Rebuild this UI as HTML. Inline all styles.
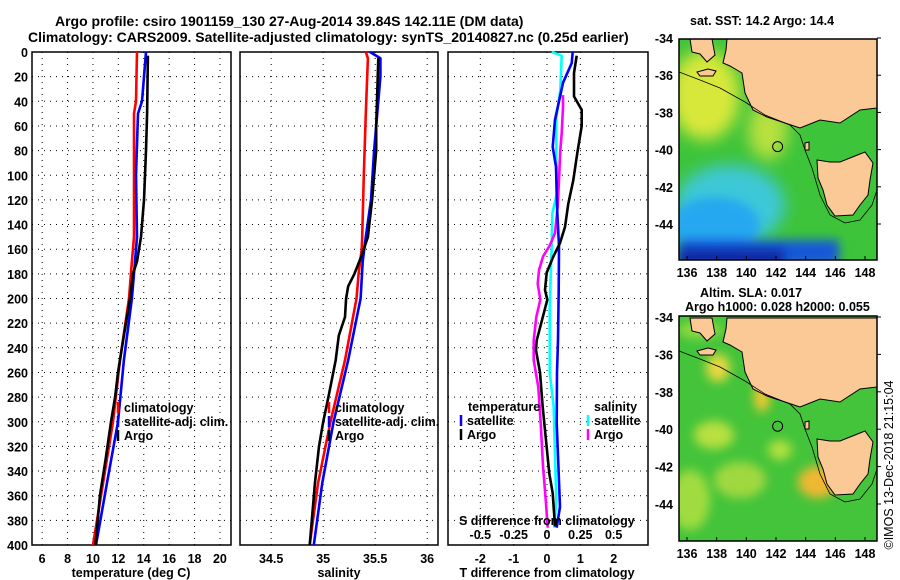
<!DOCTYPE html>
<html><head><meta charset="utf-8">
<style>
html,body{margin:0;padding:0;background:#fff;}
svg{display:block;font-family:"Liberation Sans",sans-serif;font-weight:bold;}
text{font-size:12.5px;fill:#000;}
</style></head>
<body>
<svg id="chart" width="900" height="580" viewBox="0 0 900 580" xmlns="http://www.w3.org/2000/svg">
<text x="55" y="26" style="font-size:14px">Argo profile: csiro 1901159_130 27-Aug-2014 39.84S 142.11E (DM data)</text>
<text x="28" y="42" style="font-size:14px">Climatology: CARS2009. Satellite-adjusted climatology: synTS_20140827.nc (0.25d earlier)</text>
<g id="panels"></g>
<g id="maps"></g>
<text transform="translate(893,465) rotate(-90)" text-anchor="middle" style="font-weight:normal;font-size:12.5px">©IMOS 13-Dec-2018 21:15:04</text>
</svg>
<script>
// ---- data ----
const depthTicks = [0,20,40,60,80,100,120,140,160,180,200,220,240,260,280,300,320,340,360,380,400];
const tempTicks = [6,8,10,12,14,16,18,20];
const salTicks = [34.5,35,35.5,36];
const tdiffTicks = [-2,-1,0,1,2];
const sdiffTicks = [-0.5,-0.25,0,0.25,0.5];
const sdiffTickLabels = ["-0.5","-0.25","0","0.25","0.5"];

const tClimDepth = [0,40,50,100,150,170,200,250,300,350,400];
const tClimVal   = [13.47,13.39,13.23,13.23,13.23,13.07,12.84,12.13,11.58,10.79,10.0];
const tSatDepth  = [0,20,40,50,100,150,170,200,250,300,350,400];
const tSatVal    = [14.18,14.02,13.86,13.55,13.39,13.47,13.31,13.07,12.44,11.97,11.1,10.24];
const tArgoDepth = [3,50,80,100,120,150,170,180,200,230,260,280,300,330,360,400];
const tArgoVal   = [14.33,14.26,14.18,14.1,14.02,13.78,13.47,13.15,12.92,12.44,11.97,11.74,11.42,11.0,10.55,10.2];

const sClimDepth = [0,5,50,100,150,160,180,200,250,300,350,400];
const sClimVal   = [35.41,35.43,35.41,35.39,35.375,35.37,35.34,35.32,35.21,35.07,34.95,34.87];
const sSatDepth  = [0,5,20,40,80,120,150,170,200,250,300,350,400];
const sSatVal    = [35.45,35.55,35.55,35.53,35.49,35.46,35.41,35.38,35.36,35.24,35.1,34.99,34.91];
const sArgoDepth = [5,60,80,100,120,150,165,180,190,200,215,230,250,280,300,320,350,380,400];
const sArgoVal   = [35.53,35.51,35.51,35.49,35.47,35.43,35.37,35.3,35.24,35.22,35.21,35.15,35.12,35.05,35.0,34.96,34.92,34.89,34.87];

const dTSatDepth  = [0,9,25,55,77,93,125,158,193,234,260,301,342,369,386];
const dTSatVal    = [0.77,0.74,0.48,0.24,0.17,0.27,0.3,0.36,0.35,0.33,0.3,0.29,0.35,0.39,0.29];
const dTArgoDepth = [3,17,36,47,60,82,104,123,142,155,166,179,193,201,234,242,260,288,315,342,358,385];
const dTArgoVal   = [0.89,0.81,0.81,1.04,1.04,0.91,0.79,0.64,0.54,0.39,0.19,-0.01,-0.06,0.01,-0.31,-0.33,-0.21,-0.13,-0.03,0.07,0.17,0.24];
const dSSatDepth  = [0,3,31,53,88,112,131,158,207,234,260,288,328,363,386];
const dSSatVal    = [0.035,0.11,0.1,0.07,0.07,0.08,0.04,0.035,0.02,0.02,0.02,0.05,0.06,0.07,0.055];
const dSArgoDepth = [35,45,66,80,104,125,147,157,166,177,188,201,215,234,250,272,301,336,363,386];
const dSArgoVal   = [0.12,0.12,0.11,0.1,0.09,0.08,0.06,0.02,-0.03,-0.06,-0.07,-0.05,-0.08,-0.1,-0.1,-0.065,-0.047,-0.03,-0.01,0.005];

const lonTicks = [136,138,140,142,144,146,148];
const latTicks = [-34,-36,-38,-40,-42,-44];
const argoLon = 142.11, argoLat = -39.84;

// ---- helpers ----
const NS = "http://www.w3.org/2000/svg";
function mk(tag, attrs, parent){ const e=document.createElementNS(NS,tag); for(const k in attrs) e.setAttribute(k,attrs[k]); parent.appendChild(e); return e; }
const Y0=52, Y1=545;
const yD = d => Y0 + d*(Y1-Y0)/400;
function lin(d0,d1,r0,r1){ return v => r0 + (v-d0)*(r1-r0)/(d1-d0); }
const xT = lin(5.2,20.87,32,231);
const xS = lin(34.2,36.104,240,438);
const xTD = lin(-2.97,3.03,448,648);
const xSD = v => xTD(v*4);

const panels = document.getElementById('panels');

function frame(x0,x1,name,xticks,xfn){
  const g = mk('g',{},panels);
  
  
  depthTicks.forEach(d=>{ if(d>0&&d<400){ const l=mk('line',{x1:x0,x2:x1,y1:yD(d),y2:yD(d),stroke:'#000','stroke-width':1,'stroke-dasharray':'1 5'},g);
      }});
  xticks.forEach(v=>{ const x=xfn(v); const l=mk('line',{x1:x,x2:x,y1:Y0,y2:Y1,stroke:'#000','stroke-width':1,'stroke-dasharray':'1 5'},g);
      });
  const r=mk('rect',{x:x0,y:Y0,width:x1-x0,height:Y1-Y0,fill:'none',stroke:'#000','stroke-width':1.5},g);
   
  return g;
}
function line(g,depths,vals,xfn,color,name){
  const pts = depths.map((d,i)=>xfn(vals[i]).toFixed(1)+','+yD(d).toFixed(1)).join(' ');
  const p = mk('polyline',{points:pts,fill:'none',stroke:color,'stroke-width':2.6,'stroke-linejoin':'round'},g);
  
  
}
function txt(g,x,y,s,anchor,name,extra){
  const t = mk('text',Object.assign({x:x,y:y,'text-anchor':anchor||'start'},extra||{}),g);
  t.textContent = s;
  
  
  return t;
}
function legend(g,x,y,color,label){
  const l=mk('line',{x1:x,x2:x,y1:y-10,y2:y+1,stroke:color,'stroke-width':2.5},g);
   
  txt(g,x+6,y,label,'start','legend-entry');
}

// Panel 1: temperature
const g1 = frame(32,231,'temperature-panel',tempTicks,xT);
depthTicks.forEach(d=>txt(g1,28,yD(d)+5,String(d),'end','y-tick-label'));
tempTicks.forEach(v=>txt(g1,xT(v),563,String(v),'middle','x-tick-label'));
txt(g1,131,577,'temperature (deg C)','middle','x-axis-title');
line(g1,tClimDepth,tClimVal,xT,'#f00','temp-climatology-line');
line(g1,tSatDepth,tSatVal,xT,'#00f','temp-satellite-line');
line(g1,tArgoDepth,tArgoVal,xT,'#000','temp-argo-line');
legend(g1,118,412,'#f00','climatology');
legend(g1,118,426,'#00f','satellite-adj. clim.');
legend(g1,118,440,'#000','Argo');

// Panel 2: salinity
const g2 = frame(240,438,'salinity-panel',salTicks,xS);
salTicks.forEach(v=>txt(g2,xS(v),563,String(v),'middle','x-tick-label'));
txt(g2,339,577,'salinity','middle','x-axis-title');
line(g2,sClimDepth,sClimVal,xS,'#f00','sal-climatology-line');
line(g2,sSatDepth,sSatVal,xS,'#00f','sal-satellite-line');
line(g2,sArgoDepth,sArgoVal,xS,'#000','sal-argo-line');
legend(g2,329,412,'#f00','climatology');
legend(g2,329,426,'#00f','satellite-adj. clim.');
legend(g2,329,440,'#000','Argo');

// Panel 3: differences
const g3 = frame(448,648,'difference-panel',tdiffTicks,xTD);
tdiffTicks.forEach(v=>txt(g3,xTD(v),563,String(v),'middle','x-tick-label'));
txt(g3,547,577,'T difference from climatology','middle','x-axis-title');
line(g3,dSSatDepth,dSSatVal,xSD,'#0ff','sdiff-satellite-line');
line(g3,dSArgoDepth,dSArgoVal,xSD,'#f0f','sdiff-argo-line');
line(g3,dTSatDepth,dTSatVal,xTD,'#00f','tdiff-satellite-line');
line(g3,dTArgoDepth,dTArgoVal,xTD,'#000','tdiff-argo-line');
txt(g3,468,411,'temperature','start','legend-title');
legend(g3,461,425,'#00f','satellite');
legend(g3,461,439,'#000','Argo');
txt(g3,594,411,'salinity','start','legend-title');
legend(g3,588,425,'#0ff','satellite');
legend(g3,588,439,'#f0f','Argo');
txt(g3,459,525,'S difference from climatology','start','s-axis-title');
sdiffTicks.forEach((v,i)=>txt(g3,xSD(v),539,sdiffTickLabels[i],'middle','s-tick-label'));

// ---- maps ----
const maps = document.getElementById('maps');
const defs = mk('defs',{},maps);
const f = mk('filter',{id:'blur',x:'-50%',y:'-50%',width:'200%',height:'200%'},defs);
mk('feGaussianBlur',{stdDeviation:8},f);
const f2 = mk('filter',{id:'blur2',x:'-50%',y:'-50%',width:'200%',height:'200%'},defs);
mk('feGaussianBlur',{stdDeviation:5},f2);

function drawMap(top,bottom,name,type){
  const X0=679,X1=877;
  const lonX = lin(136,148,687,865);
  const latY = lin(-34,-44,top-1+ (type==='sst'?0:2),top-1+(type==='sst'?186:189));
  const g = mk('g',{},maps);
  
  
  const cp = mk('clipPath',{id:'clip-'+type},defs);
  mk('rect',{x:X0,y:top,width:X1-X0,height:bottom-top},cp);
  const c = mk('g',{'clip-path':'url(#clip-'+type+')'},g);
  if(type==='sst'){
    mk('rect',{x:X0,y:top,width:X1-X0,height:bottom-top,fill:'#3ec43a'},c);
    mk('ellipse',{cx:705,cy:95,rx:35,ry:45,fill:'#d8e83a',filter:'url(#blur)'},c);
    mk('ellipse',{cx:768,cy:130,rx:20,ry:30,fill:'#b8e040',filter:'url(#blur)'},c);
    mk('ellipse',{cx:730,cy:205,rx:55,ry:40,fill:'#3cc8d8',filter:'url(#blur)'},c);
    mk('ellipse',{cx:715,cy:225,rx:45,ry:28,fill:'#28a8f0',filter:'url(#blur2)'},c);
    mk('rect',{x:X0,y:240,width:160,height:25,fill:'#1458d8',filter:'url(#blur2)'},c);
    mk('rect',{x:X0,y:250,width:105,height:15,fill:'#0828a0',filter:'url(#blur2)'},c);
  } else {
    mk('rect',{x:X0,y:top,width:X1-X0,height:bottom-top,fill:'#44c43a'},c);
    [[718,368,12,14,'#e8d840'],[762,396,8,16,'#f0c830'],[714,435,20,14,'#b8e040'],[818,482,20,16,'#f0b830'],[780,450,12,10,'#b0e040'],[740,480,26,18,'#a0d840'],[700,330,22,8,'#98dc40'],[690,500,20,30,'#a0dc40']].forEach(b=>{
      mk('ellipse',{cx:b[0],cy:b[1],rx:b[2],ry:b[3],fill:b[4],filter:'url(#blur2)'},c);
    });
  }
  // land
  const off = latY(-34) - 38;
  const land = [[727,39],[877,39],[877,108],[860,110],[840,123],[820,120],[800,128],[767,117],[753,110],[745,93],[742,73],[730,66],[723,63],[726,50]];
  const lp = mk('polygon',{points:land.map(p=>p[0]+','+(p[1]+off)).join(' '),fill:'#fbc996',stroke:'#000','stroke-width':1},c);
   
  const pen = [[690,39],[712,39],[715,55],[707,62],[700,54],[692,52]];
  mk('polygon',{points:pen.map(p=>p[0]+','+(p[1]+off)).join(' '),fill:'#fbc996',stroke:'#000','stroke-width':1},c);
  const ki = [[697,72],[708,69],[716,71],[713,76],[700,76]];
  mk('polygon',{points:ki.map(p=>p[0]+','+(p[1]+off)).join(' '),fill:'#fbc996',stroke:'#000','stroke-width':1},c);
  const tas = [[817,160],[830,162],[840,162],[855,156],[865,152],[873,163],[870,180],[868,195],[860,205],[853,215],[835,216],[827,205],[823,190],[818,178]];
  const tp = mk('polygon',{points:tas.map(p=>p[0]+','+(p[1]+off)).join(' '),fill:'#fbc996',stroke:'#000','stroke-width':1},c);
   
  mk('polygon',{points:[[805,143],[809,142],[809,150],[805,150]].map(p=>p[0]+','+(p[1]+off)).join(' '),fill:'#fbc996',stroke:'#000','stroke-width':1},c);
  const shelf = [[679,72],[700,80],[720,88],[745,102],[765,115],[790,125],[800,135],[805,150],[812,168],[820,195],[830,215],[845,223],[860,220],[872,205],[877,190]];
  mk('polyline',{points:shelf.map(p=>p[0]+','+(p[1]+off)).join(' '),fill:'none',stroke:'#000','stroke-width':0.8},c);
  const circ = mk('circle',{cx:lonX(argoLon),cy:latY(argoLat),r:5,fill:'none',stroke:'#000','stroke-width':1},g);
   
  const fr = mk('rect',{x:X0,y:top,width:X1-X0,height:bottom-top,fill:'none',stroke:'#000','stroke-width':1.5},g);
   
  latTicks.forEach(v=>{
    txt(g,673,latY(v)+5,String(v),'end','lat-tick-label');
    mk('line',{x1:X1,x2:X1+4,y1:latY(v),y2:latY(v),stroke:'#000'},g);
  });
  lonTicks.forEach(v=>{
    txt(g,lonX(v),bottom+17,String(v),'middle','lon-tick-label');
    mk('line',{x1:lonX(v),x2:lonX(v),y1:bottom,y2:bottom-4,stroke:'#000'},g);
  });
}
drawMap(39,260,'sst-map','sst');
drawMap(316,541,'sla-map','sla');
const mg = maps;
txt(mg,690,25,'sat. SST: 14.2 Argo: 14.4','start','sst-map-title');
txt(mg,700,297,'Altim. SLA: 0.017','start','sla-map-title');
txt(mg,685,311,'Argo h1000: 0.028 h2000: 0.055','start','sla-map-subtitle');
</script>
</body></html>
